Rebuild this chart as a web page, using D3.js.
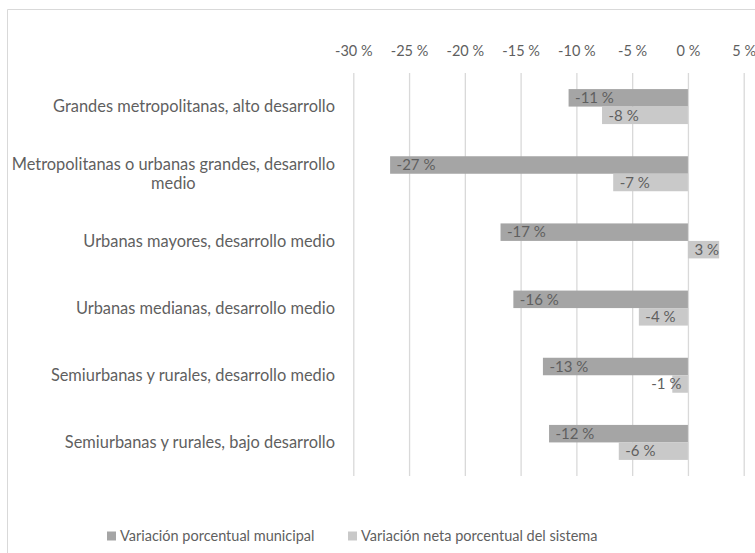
<!DOCTYPE html>
<html>
<head>
<meta charset="utf-8">
<script src="https://cdn.jsdelivr.net/npm/d3@7"></script>
<style>
  html, body { margin: 0; padding: 0; background: #fff; }
  svg { display: block; }
  text { font-family: Lato, "Liberation Sans", sans-serif; fill: #5f5f5f; }
</style>
</head>
<body>
<svg id="chart" width="755" height="553"></svg>
<script>
// Categories (top to bottom); wrapped labels are split into lines
const categories = [
  ["Grandes metropolitanas, alto desarrollo"],
  ["Metropolitanas o urbanas grandes, desarrollo", "medio"],
  ["Urbanas mayores, desarrollo medio"],
  ["Urbanas medianas, desarrollo medio"],
  ["Semiurbanas y rurales, desarrollo medio"],
  ["Semiurbanas y rurales, bajo desarrollo"]
];
const seriesNames = ["Variación porcentual municipal", "Variación neta porcentual del sistema"];
// Percent values
const municipal = [-10.7, -26.7, -16.8, -15.65, -13.0, -12.45];
const sistema   = [-7.7, -6.7, 2.8, -4.4, -1.4, -6.2];
const tickValues = [-30, -25, -20, -15, -10, -5, 0, 5];

const colors = ["#a5a5a5", "#c9c9c9"];
// plain hyphen-minus, as in the spreadsheet number format
const fmt = v => String(Math.round(v)).replace("\u2212", "-") + " %";

const svg = d3.select("#chart");

// outer chart frame
svg.append("path")
  .attr("d", "M7.5,560 V9.5 H760")
  .attr("fill", "none")
  .attr("stroke", "#d9d9d9")
  .attr("stroke-width", 1);

const plot = { left: 353.3, right: 743.7, top: 73, bottom: 476 };

const x = d3.scaleLinear().domain([-30, 5]).range([plot.left, plot.right]);
const ids = d3.range(categories.length);
const y = d3.scaleBand().domain(ids).range([plot.top, plot.bottom])
  .paddingInner(0.479).paddingOuter(0.2395);
const ySub = d3.scaleBand().domain([0, 1]).range([0, y.bandwidth()]);

// vertical gridlines + top axis labels
const axis = d3.axisTop(x).tickValues(tickValues).tickFormat(fmt)
  .tickSize(-(plot.bottom - plot.top));
const gAxis = svg.append("g").attr("transform", `translate(0,${plot.top})`).call(axis);
gAxis.select(".domain").remove();
gAxis.selectAll(".tick line").attr("stroke", "#d9d9d9").attr("stroke-width", 1.3);
gAxis.selectAll(".tick text")
  .attr("font-size", 14.5).attr("font-family", null).style("fill", "#5f5f5f")
  .attr("dy", "0.35em").attr("y", -22.5);

// bars
const rows = ids.map(i => [municipal[i], sistema[i]]);
const gRow = svg.append("g").selectAll("g").data(rows).join("g")
  .attr("transform", (d, i) => `translate(0,${y(i)})`);

gRow.selectAll("rect").data(d => d).join("rect")
  .attr("x", v => x(Math.min(0, v)))
  .attr("width", v => Math.abs(x(v) - x(0)))
  .attr("y", (v, j) => ySub(j))
  .attr("height", ySub.bandwidth())
  .attr("fill", (v, j) => colors[j]);

// value labels at the bar end, moved to the base when they do not fit
const pad = 6.5;
gRow.selectAll("text.val").data(d => d).join("text")
  .attr("class", "val")
  .attr("font-size", 15)
  .attr("y", (v, j) => ySub(j) + ySub.bandwidth() / 2)
  .attr("dy", "0.35em")
  .text(v => fmt(v))
  .each(function (v) {
    const w = this.getComputedTextLength();
    const barW = Math.abs(x(v) - x(0));
    const fits = w + 2 * pad <= barW;
    const t = d3.select(this);
    if (v < 0) {
      if (fits) t.attr("x", x(v) + pad).attr("text-anchor", "start");
      else t.attr("x", x(0) - pad).attr("text-anchor", "end");
    } else {
      if (fits) t.attr("x", x(v) - pad).attr("text-anchor", "end");
      else t.attr("x", x(0) + pad).attr("text-anchor", "start");
    }
  });

// category labels
const labelRight = 335;
const lineH = 18.5;
svg.append("g").selectAll("text").data(categories).join("text")
  .attr("font-size", 16.4)
  .attr("y", (d, i) => y(i) + y.bandwidth() / 2 - (d.length - 1) * lineH / 2)
  .attr("dy", "0.35em")
  .each(function (lines) {
    const t = d3.select(this);
    if (lines.length === 1) {
      t.attr("x", labelRight).attr("text-anchor", "end").text(lines[0]);
    } else {
      // wrapped label: lines centred on the widest line
      t.attr("text-anchor", "middle");
      const tmp = t.append("tspan").text(lines[0]);
      const w = tmp.node().getComputedTextLength();
      tmp.remove();
      const cx = labelRight - w / 2;
      t.attr("dy", null);
      lines.forEach((ln, k) => {
        t.append("tspan").attr("x", cx).attr("dy", k === 0 ? "0.35em" : lineH).text(ln);
      });
    }
  });

// legend
const legendY = 536;
const legendItems = [{ x: 107, c: colors[0], n: seriesNames[0] }, { x: 348, c: colors[1], n: seriesNames[1] }];
const gLeg = svg.append("g").selectAll("g").data(legendItems).join("g")
  .attr("transform", d => `translate(${d.x},${legendY})`);
gLeg.append("rect").attr("x", 0).attr("y", -4.5).attr("width", 9).attr("height", 9).attr("fill", d => d.c);
gLeg.append("text").attr("x", 13).attr("dy", "0.35em").attr("font-size", 14.5).text(d => d.n);
</script>
</body>
</html>
